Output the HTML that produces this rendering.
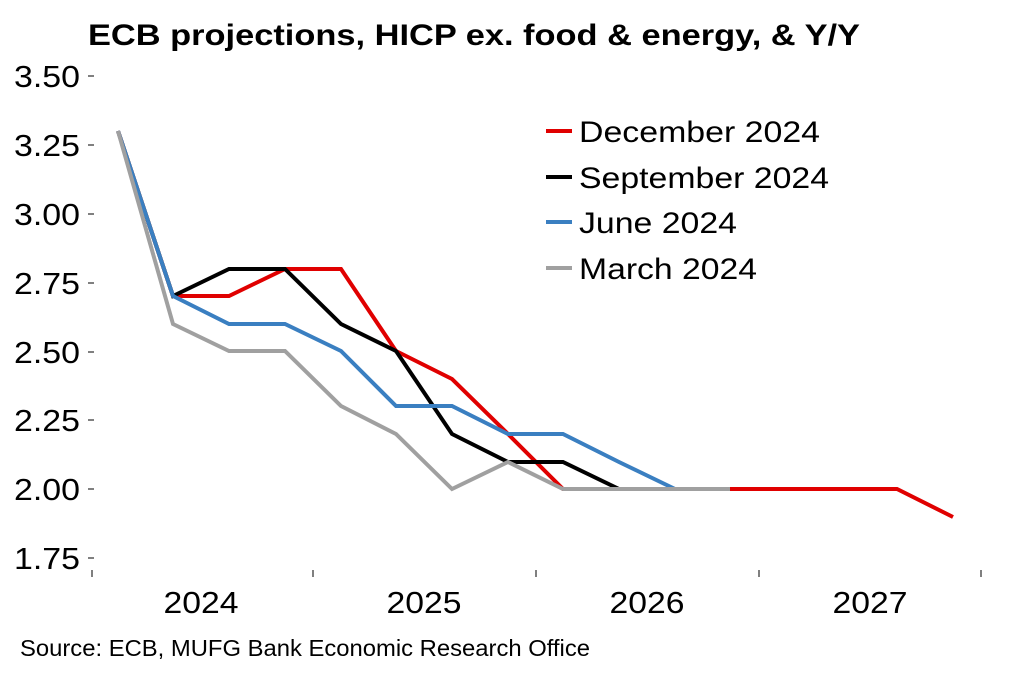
<!DOCTYPE html>
<html><head><style>
body{margin:0;background:#fff;}
svg text{font-family:"Liberation Sans",Arial,sans-serif;}
</style></head><body>
<svg width="1022" height="681" viewBox="0 0 1022 681" xmlns="http://www.w3.org/2000/svg">
<rect width="1022" height="681" fill="#fff"/>
<text x="88" y="45" font-size="30" font-weight="bold" textLength="772" lengthAdjust="spacingAndGlyphs">ECB projections, HICP ex. food &amp; energy, &amp; Y/Y</text>
<g font-size="31" text-anchor="end">
<text x="80" y="87" textLength="66" lengthAdjust="spacingAndGlyphs">3.50</text>
<text x="80" y="156" textLength="66" lengthAdjust="spacingAndGlyphs">3.25</text>
<text x="80" y="225" textLength="66" lengthAdjust="spacingAndGlyphs">3.00</text>
<text x="80" y="294" textLength="66" lengthAdjust="spacingAndGlyphs">2.75</text>
<text x="80" y="363" textLength="66" lengthAdjust="spacingAndGlyphs">2.50</text>
<text x="80" y="431" textLength="66" lengthAdjust="spacingAndGlyphs">2.25</text>
<text x="80" y="500" textLength="66" lengthAdjust="spacingAndGlyphs">2.00</text>
<text x="80" y="569" textLength="66" lengthAdjust="spacingAndGlyphs">1.75</text>
</g>
<g stroke="#000" stroke-width="1">
<line x1="88" y1="76" x2="94" y2="76"/><line x1="88" y1="145" x2="94" y2="145"/>
<line x1="88" y1="214" x2="94" y2="214"/><line x1="88" y1="283" x2="94" y2="283"/>
<line x1="88" y1="352" x2="94" y2="352"/><line x1="88" y1="420" x2="94" y2="420"/>
<line x1="88" y1="489" x2="94" y2="489"/><line x1="88" y1="558" x2="94" y2="558"/>
<line x1="92" y1="570" x2="92" y2="577"/><line x1="313" y1="570" x2="313" y2="577"/>
<line x1="536" y1="570" x2="536" y2="577"/><line x1="759" y1="570" x2="759" y2="577"/>
<line x1="981" y1="570" x2="981" y2="577"/>
</g>
<g font-size="31" text-anchor="middle">
<text x="201" y="613" textLength="75" lengthAdjust="spacingAndGlyphs">2024</text>
<text x="424" y="613" textLength="75" lengthAdjust="spacingAndGlyphs">2025</text>
<text x="647" y="613" textLength="75" lengthAdjust="spacingAndGlyphs">2026</text>
<text x="870" y="613" textLength="75" lengthAdjust="spacingAndGlyphs">2027</text>
</g>
<text x="20" y="656" font-size="23" textLength="570" lengthAdjust="spacingAndGlyphs">Source: ECB, MUFG Bank Economic Research Office</text>
<g fill="none" stroke-width="4" stroke-linejoin="miter">
<polyline stroke="#e00000" points="118,131 173,296 229,296 285,269 341,269 396,351 452,379 508,434 563,489 619,489 675,489 730,489 786,489 842,489 897,489 953,517"/>
<polyline stroke="#000" points="118,131 173,296 229,269 285,269 341,324 396,351 452,434 508,462 563,462 619,489 675,489 730,489"/>
<polyline stroke="#3a7fc1" points="118,131 173,296 229,324 285,324 341,351 396,406 452,406 508,434 563,434 619,462 675,489 730,489"/>
<polyline stroke="#a0a0a0" points="118,131 173,324 229,351 285,351 341,406 396,434 452,489 508,462 563,489 619,489 675,489 730,489"/>
</g>
<g stroke-width="4">
<line x1="546" y1="131" x2="572" y2="131" stroke="#e00000"/>
<line x1="546" y1="177" x2="572" y2="177" stroke="#000"/>
<line x1="546" y1="222" x2="572" y2="222" stroke="#3a7fc1"/>
<line x1="546" y1="268" x2="572" y2="268" stroke="#a0a0a0"/>
</g>
<g font-size="30">
<text x="579" y="142" textLength="241" lengthAdjust="spacingAndGlyphs">December 2024</text>
<text x="579" y="188" textLength="250" lengthAdjust="spacingAndGlyphs">September 2024</text>
<text x="579" y="233" textLength="158" lengthAdjust="spacingAndGlyphs">June 2024</text>
<text x="579" y="279" textLength="178" lengthAdjust="spacingAndGlyphs">March 2024</text>
</g>
</svg>
</body></html>
